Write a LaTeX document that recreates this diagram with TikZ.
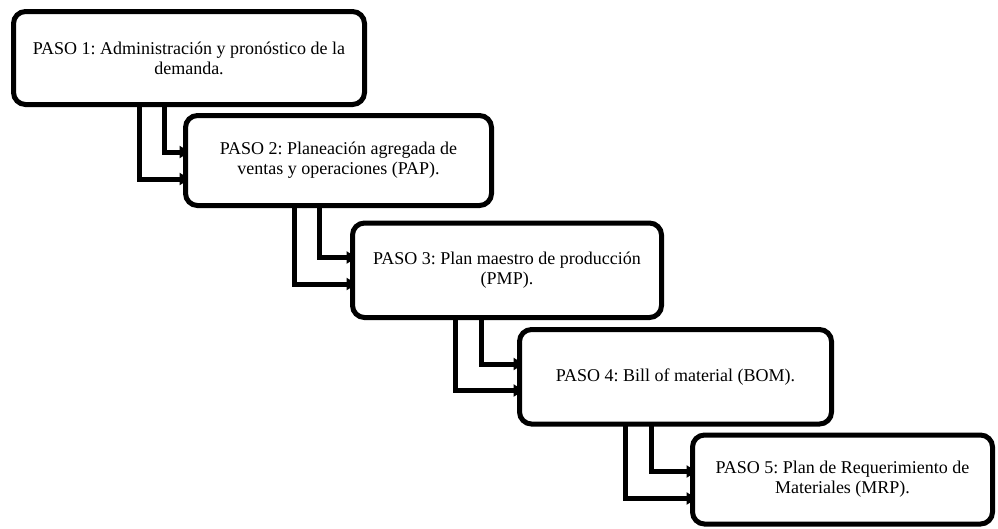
\documentclass[tikz,border=0pt]{standalone}
\usepackage{fontspec}
\setmainfont{Liberation Serif}
\usetikzlibrary{arrows.meta}
\pgfdeclarelayer{background}
\pgfsetlayers{background,main}
\frenchspacing
\begin{document}
\begin{tikzpicture}[x=1pt,y=-1pt,
  stepbox/.style={draw=black, fill=white, line width=5pt, rounded corners=12pt,
    outer sep=0pt, inner sep=0pt, align=center,
    font=\fontsize{18}{20}\selectfont},
  conn/.style={draw=black, line width=5pt, shorten >=-4pt,
    -{Triangle[length=10pt,width=12pt]}}
]
\useasboundingbox (0,0) rectangle (998,528);

% the five steps
\node[stepbox, minimum width=351pt, minimum height=93pt] (B1) at (189,58)
  {PASO 1: Administración y pronóstico de la\\demanda.};
\node[stepbox, minimum width=306pt, minimum height=90pt] (B2) at (338.5,160.5)
  {PASO 2: Planeación agregada de\\ventas y operaciones (PAP).};
\node[stepbox, minimum width=309pt, minimum height=94.5pt] (B3) at (507,270.25)
  {PASO 3: Plan maestro de producción\\(PMP).};
\node[stepbox, minimum width=312pt, minimum height=94.5pt] (B4) at (675.5,376.75)
  {PASO 4: Bill of material (BOM).};
\node[stepbox, minimum width=300pt, minimum height=89pt] (B5) at (842.5,479.5)
  {PASO 5: Plan de Requerimiento de\\Materiales (MRP).};

% paired elbow connectors between consecutive steps
\begin{pgfonlayer}{background}
\draw[conn] ([xshift=125.5pt]B1.south west) |- ([yshift=-63.5pt]B2.north west);
\draw[conn] ([xshift=150.5pt]B1.south west) |- ([yshift=-36.5pt]B2.north west);

\draw[conn] ([xshift=108.5pt]B2.south west) |- ([yshift=-61pt]B3.north west);
\draw[conn] ([xshift=133.5pt]B2.south west) |- ([yshift=-34.5pt]B3.north west);

\draw[conn] ([xshift=102.5pt]B3.south west) |- ([yshift=-61pt]B4.north west);
\draw[conn] ([xshift=129pt]B3.south west) |- ([yshift=-34.5pt]B4.north west);

\draw[conn] ([xshift=105.5pt]B4.south west) |- ([yshift=-63.5pt]B5.north west);
\draw[conn] ([xshift=131.5pt]B4.south west) |- ([yshift=-36.5pt]B5.north west);
\end{pgfonlayer}
\end{tikzpicture}
\end{document}
